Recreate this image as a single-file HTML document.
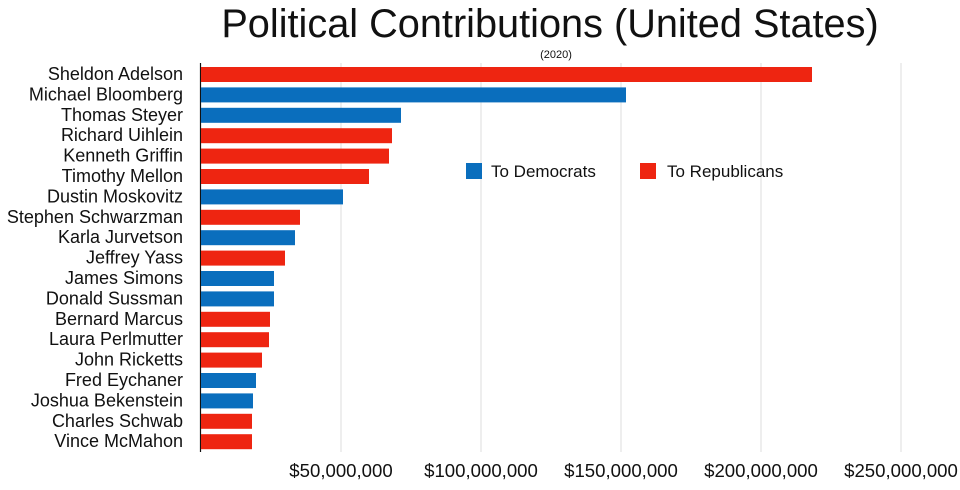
<!DOCTYPE html>
<html><head><meta charset="utf-8"><style>
body{margin:0;background:#fff;}
svg text{font-family:"Liberation Sans",Arial,sans-serif;fill:#111;}
</style></head><body>
<svg width="960" height="485" xmlns="http://www.w3.org/2000/svg">
<rect width="960" height="485" fill="#fff"/>
<text x="550" y="37" font-size="39.7" text-anchor="middle">Political Contributions (United States)</text>
<text x="556" y="58" font-size="11" text-anchor="middle">(2020)</text>
<g stroke="#dcdcdc" stroke-width="1">
<line x1="341" y1="63" x2="341" y2="452"/><line x1="481" y1="63" x2="481" y2="452"/>
<line x1="621" y1="63" x2="621" y2="452"/><line x1="761" y1="63" x2="761" y2="452"/>
<line x1="901" y1="63" x2="901" y2="452"/>
</g>
<g font-size="18.6" text-anchor="middle">
<text x="341" y="477">$50,000,000</text><text x="481" y="477">$100,000,000</text>
<text x="621" y="477">$150,000,000</text><text x="761" y="477">$200,000,000</text>
<text x="901" y="477">$250,000,000</text>
</g>
<line x1="200.5" y1="63" x2="200.5" y2="452" stroke="#111" stroke-width="1.2"/>
<rect x="466" y="163" width="16" height="16" fill="#0A6EBD"/>
<text x="491" y="177" font-size="17">To Democrats</text>
<rect x="640" y="163" width="16" height="16" fill="#EE2511"/>
<text x="667" y="177" font-size="17">To Republicans</text>
<g font-size="18" text-anchor="end">
<text x="183" y="80">Sheldon Adelson</text>
<text x="183" y="100.4">Michael  Bloomberg</text>
<text x="183" y="120.8">Thomas Steyer</text>
<text x="183" y="141.2">Richard Uihlein</text>
<text x="183" y="161.6">Kenneth Griffin</text>
<text x="183" y="182">Timothy Mellon</text>
<text x="183" y="202.4">Dustin Moskovitz</text>
<text x="183" y="222.8">Stephen Schwarzman</text>
<text x="183" y="243.2">Karla Jurvetson</text>
<text x="183" y="263.6">Jeffrey Yass</text>
<text x="183" y="284">James Simons</text>
<text x="183" y="304.4">Donald Sussman</text>
<text x="183" y="324.8">Bernard Marcus</text>
<text x="183" y="345.2">Laura Perlmutter</text>
<text x="183" y="365.6">John Ricketts</text>
<text x="183" y="386">Fred Eychaner</text>
<text x="183" y="406.4">Joshua Bekenstein</text>
<text x="183" y="426.8">Charles Schwab</text>
<text x="183" y="447.2">Vince McMahon</text>
</g>
<g>
<rect x="201" y="67" width="611" height="15" fill="#EE2511"/>
<rect x="201" y="87.4" width="425" height="15" fill="#0A6EBD"/>
<rect x="201" y="107.8" width="200" height="15" fill="#0A6EBD"/>
<rect x="201" y="128.2" width="191" height="15" fill="#EE2511"/>
<rect x="201" y="148.6" width="188" height="15" fill="#EE2511"/>
<rect x="201" y="169" width="168" height="15" fill="#EE2511"/>
<rect x="201" y="189.4" width="142" height="15" fill="#0A6EBD"/>
<rect x="201" y="209.8" width="99" height="15" fill="#EE2511"/>
<rect x="201" y="230.2" width="94" height="15" fill="#0A6EBD"/>
<rect x="201" y="250.6" width="84" height="15" fill="#EE2511"/>
<rect x="201" y="271" width="73" height="15" fill="#0A6EBD"/>
<rect x="201" y="291.4" width="73" height="15" fill="#0A6EBD"/>
<rect x="201" y="311.8" width="69" height="15" fill="#EE2511"/>
<rect x="201" y="332.2" width="68" height="15" fill="#EE2511"/>
<rect x="201" y="352.6" width="61" height="15" fill="#EE2511"/>
<rect x="201" y="373" width="55" height="15" fill="#0A6EBD"/>
<rect x="201" y="393.4" width="52" height="15" fill="#0A6EBD"/>
<rect x="201" y="413.8" width="51" height="15" fill="#EE2511"/>
<rect x="201" y="434.2" width="51" height="15" fill="#EE2511"/>
</g>
</svg>
</body></html>
